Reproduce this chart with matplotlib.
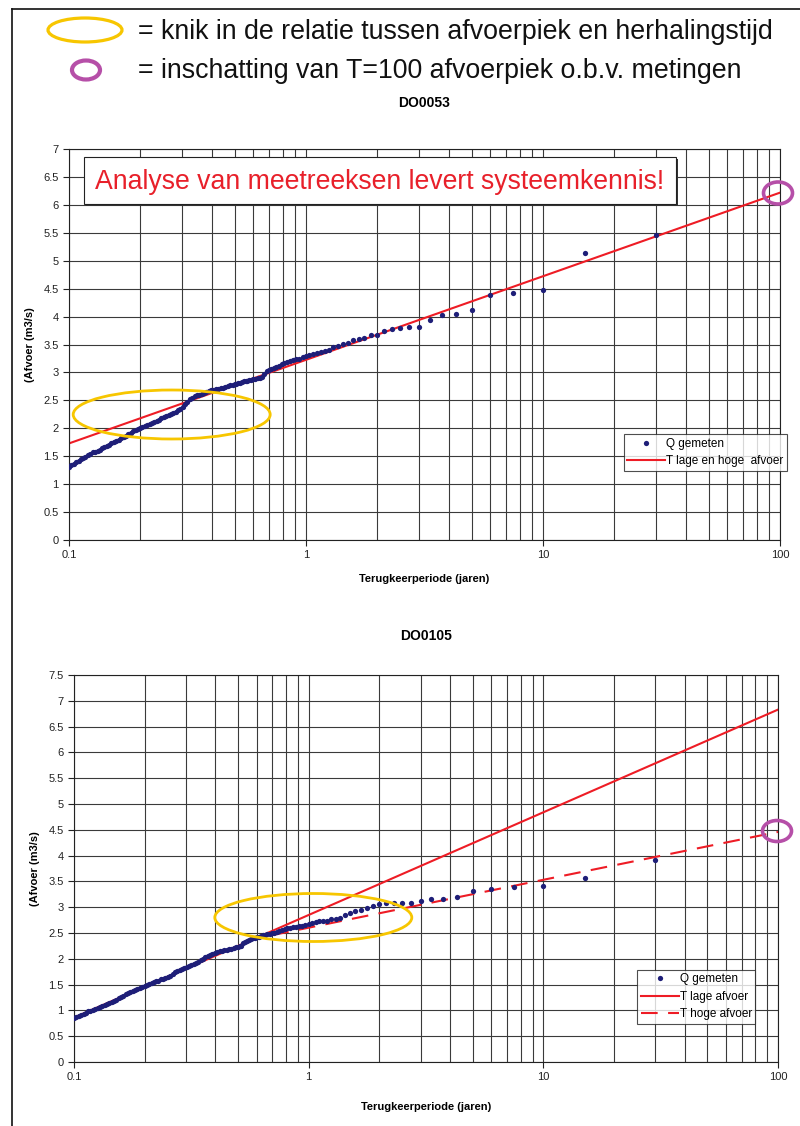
import matplotlib
matplotlib.use("Agg")
import matplotlib.pyplot as plt
from matplotlib.patches import Ellipse, Rectangle
from matplotlib.ticker import FixedLocator, NullFormatter, LogLocator

plt.rcParams['font.family'] = ['Liberation Sans', 'DejaVu Sans']

# plotting positions (return period in years), shared by both stations
return_period = [
    0.100, 0.102, 0.105, 0.107, 0.110, 0.112, 0.115, 0.117, 0.120, 0.123,
    0.126, 0.129, 0.132, 0.135, 0.138, 0.141, 0.145, 0.148, 0.151, 0.155,
    0.158, 0.162, 0.166, 0.170, 0.174, 0.178, 0.182, 0.186, 0.191, 0.195,
    0.200, 0.204, 0.209, 0.214, 0.219, 0.224, 0.229, 0.234, 0.240, 0.245,
    0.251, 0.257, 0.263, 0.269, 0.275, 0.282, 0.288, 0.295, 0.302, 0.309,
    0.316, 0.324, 0.331, 0.339, 0.347, 0.355, 0.363, 0.372, 0.380, 0.389,
    0.398, 0.407, 0.417, 0.427, 0.437, 0.447, 0.457, 0.468, 0.479, 0.490,
    0.500, 0.508, 0.517, 0.526, 0.536, 0.545, 0.556, 0.566, 0.577, 0.588,
    0.600, 0.612, 0.625, 0.638, 0.652, 0.667, 0.682, 0.698, 0.714, 0.732,
    0.750, 0.769, 0.789, 0.811, 0.833, 0.857, 0.882, 0.909, 0.938, 0.968,
    1.000, 1.034, 1.071, 1.111, 1.154, 1.200, 1.250, 1.304, 1.364, 1.429,
    1.500, 1.579, 1.667, 1.765, 1.875, 2.000, 2.143, 2.308, 2.500, 2.727,
    3.000, 3.333, 3.750, 4.286, 5.000, 6.000, 7.500, 10.00, 15.00, 30.00]

# measured discharge peaks (m3/s)
q_do0053 = [
    1.31, 1.34, 1.37, 1.39, 1.42, 1.45, 1.47, 1.49, 1.52, 1.54,
    1.57, 1.58, 1.60, 1.62, 1.64, 1.66, 1.68, 1.70, 1.73, 1.75,
    1.77, 1.80, 1.82, 1.85, 1.87, 1.90, 1.92, 1.95, 1.97, 1.99,
    2.01, 2.03, 2.04, 2.06, 2.08, 2.10, 2.12, 2.14, 2.15, 2.18,
    2.20, 2.22, 2.24, 2.26, 2.28, 2.30, 2.32, 2.35, 2.38, 2.43,
    2.48, 2.52, 2.55, 2.57, 2.59, 2.60, 2.61, 2.63, 2.65, 2.66,
    2.68, 2.69, 2.70, 2.71, 2.72, 2.73, 2.74, 2.76, 2.77, 2.78,
    2.79, 2.80, 2.81, 2.82, 2.83, 2.84, 2.84, 2.85, 2.86, 2.87,
    2.88, 2.89, 2.90, 2.91, 2.92, 2.97, 3.02, 3.05, 3.07, 3.08,
    3.10, 3.12, 3.15, 3.17, 3.18, 3.20, 3.22, 3.24, 3.25, 3.27,
    3.29, 3.31, 3.33, 3.34, 3.36, 3.38, 3.41, 3.45, 3.48, 3.51,
    3.52, 3.58, 3.60, 3.61, 3.67, 3.68, 3.75, 3.77, 3.79, 3.81,
    3.82, 3.94, 4.03, 4.05, 4.11, 4.39, 4.42, 4.47, 5.14, 5.47]

q_do0105 = [
    0.86, 0.88, 0.90, 0.92, 0.94, 0.96, 0.98, 0.99, 1.01, 1.03,
    1.05, 1.07, 1.09, 1.11, 1.12, 1.14, 1.16, 1.19, 1.21, 1.24,
    1.26, 1.28, 1.31, 1.33, 1.35, 1.37, 1.39, 1.41, 1.43, 1.46,
    1.48, 1.50, 1.52, 1.54, 1.55, 1.57, 1.58, 1.60, 1.61, 1.62,
    1.64, 1.66, 1.70, 1.74, 1.77, 1.79, 1.81, 1.83, 1.85, 1.87,
    1.88, 1.90, 1.92, 1.94, 1.97, 2.00, 2.03, 2.06, 2.08, 2.10,
    2.12, 2.13, 2.15, 2.16, 2.17, 2.18, 2.19, 2.20, 2.21, 2.22,
    2.23, 2.24, 2.25, 2.30, 2.32, 2.34, 2.36, 2.38, 2.40, 2.41,
    2.42, 2.43, 2.44, 2.46, 2.47, 2.48, 2.49, 2.50, 2.51, 2.52,
    2.53, 2.55, 2.57, 2.59, 2.60, 2.61, 2.62, 2.63, 2.64, 2.65,
    2.68, 2.70, 2.72, 2.73, 2.73, 2.74, 2.77, 2.78, 2.79, 2.85,
    2.89, 2.92, 2.95, 2.98, 3.02, 3.06, 3.08, 3.09, 3.09, 3.09,
    3.13, 3.16, 3.16, 3.20, 3.32, 3.36, 3.40, 3.41, 3.57, 3.91]

# fitted lines (end points)
fit_t = [0.1, 100]
fit_do0053 = [1.73, 6.22]
fit_low_do0105 = [0.86, 6.83]
fit_high_t = [0.7, 100]
fit_high_do0105 = [2.46, 4.46]

y_ticks_top = [0, 0.5, 1, 1.5, 2, 2.5, 3, 3.5, 4, 4.5, 5, 5.5, 6, 6.5, 7]
y_ticks_bot = y_ticks_top + [7.5]
x_ticks = [0.1, 1, 10, 100]

DOT = '#1e1e78'
RED = '#ee1c25'
GRID = '#3a3a3a'


def style_axes(ax, yticks, ymax, xpad):
    ax.set_xscale('log')
    ax.set_xlim(0.1, 100)
    ax.set_ylim(0, ymax)
    ax.set_yticks(yticks)
    ax.set_yticklabels(['%g' % v for v in yticks])
    ax.xaxis.set_major_locator(FixedLocator(x_ticks))
    ax.set_xticklabels(['0.1', '1', '10', '100'])
    ax.xaxis.set_minor_locator(LogLocator(base=10, subs=range(2, 10)))
    ax.xaxis.set_minor_formatter(NullFormatter())
    ax.grid(True, which='both', axis='x', color=GRID, lw=0.8)
    ax.grid(True, which='major', axis='y', color=GRID, lw=0.8)
    ax.tick_params(axis='both', which='major', labelsize=8, length=4,
                   width=0.8, colors='#222222')
    ax.tick_params(axis='x', which='minor', length=0)
    for s in ax.spines.values():
        s.set_color('#222222')
        s.set_linewidth(0.8)
    ax.set_ylabel('(Afvoer (m3/s)', fontsize=8, fontweight='bold', labelpad=6)
    ax.set_xlabel('Terugkeerperiode (jaren)', fontsize=8, fontweight='bold',
                  labelpad=xpad)
    ax.set_axisbelow(True)


def add_legend(ax, anchor):
    leg = ax.legend(loc='upper left', bbox_to_anchor=anchor, fontsize=8.5,
                    frameon=True, fancybox=False, edgecolor='#222222',
                    borderpad=0.3, handlelength=3.2, handletextpad=0.1,
                    labelspacing=0.45, borderaxespad=0)
    leg.get_frame().set_linewidth(0.8)


fig = plt.figure(figsize=(8, 11.26), dpi=100)

# --- DO0053 ---
ax1 = fig.add_axes([0.08625, 0.5204, 0.88875, 0.3472])
style_axes(ax1, y_ticks_top, 7, 10)
ax1.plot(return_period, q_do0053, 'o', color=DOT, ms=3.8, mew=0,
         label='Q gemeten', zorder=3)
ax1.plot(fit_t, fit_do0053, color=RED, lw=1.5, label='T lage en hoge  afvoer',
         zorder=2)
ax1.set_title('DO0053', fontsize=10, fontweight='bold', pad=30)
add_legend(ax1, (0.78, 0.27))

# --- DO0105 ---
ax2 = fig.add_axes([0.0925, 0.0568, 0.88, 0.3437])
style_axes(ax2, y_ticks_bot, 7.5, 14)
ax2.plot(return_period, q_do0105, 'o', color=DOT, ms=3.8, mew=0,
         label='Q gemeten', zorder=3)
ax2.plot(fit_t, fit_low_do0105, color=RED, lw=1.5, label='T lage afvoer',
         zorder=2)
ax2.plot(fit_high_t, fit_high_do0105, color=RED, lw=1.5, dashes=(8, 5),
         label='T hoge afvoer', zorder=2)
ax2.set_title('DO0105', fontsize=10, fontweight='bold', pad=25)
add_legend(ax2, (0.80, 0.238))

# --- overlay in pixel coordinates for the annotations ---
ov = fig.add_axes([0, 0, 1, 1], zorder=10)
ov.set_xlim(0, 800)
ov.set_ylim(1126, 0)
ov.axis('off')
ov.patch.set_alpha(0)

ov.plot([12, 12], [9, 1126], color='#111111', lw=1.2)
ov.plot([12, 800], [9, 9], color='#111111', lw=1.2)

YELLOW = '#f7c600'
PINK = '#b64fa8'
ov.add_patch(Ellipse((85, 30), 74, 24, fill=False, ec=YELLOW, lw=2.3))
ov.add_patch(Ellipse((86, 70), 28, 19, fill=False, ec=PINK, lw=3))
ov.text(138, 32, '= knik in de relatie tussen afvoerpiek en herhalingstijd',
        fontsize=19.3, va='center', ha='left', color='#111111')
ov.text(138, 71, '= inschatting van T=100 afvoerpiek o.b.v. metingen',
        fontsize=19.3, va='center', ha='left', color='#111111')

# text box with shadow
ov.add_patch(Rectangle((86, 159), 592, 47, fc='#333333', ec='none'))
ov.add_patch(Rectangle((84, 157), 592, 47, fc='white', ec='#222222', lw=0.8))
ov.text(380, 182, 'Analyse van meetreeksen levert systeemkennis!',
        fontsize=19.2, color='#e8202a', ha='center', va='center')

# knik ellipses and T=100 markers
ov.add_patch(Ellipse((171.7, 414.5), 197, 49, fill=False, ec=YELLOW, lw=2))
ov.add_patch(Ellipse((313.3, 917.5), 197, 48, fill=False, ec=YELLOW, lw=2))
ov.add_patch(Ellipse((778, 193), 29, 22, fill=False, ec=PINK, lw=2.6))
ov.add_patch(Ellipse((777, 831), 29, 21, fill=False, ec=PINK, lw=2.6))

fig.savefig('out.png', dpi=100)
